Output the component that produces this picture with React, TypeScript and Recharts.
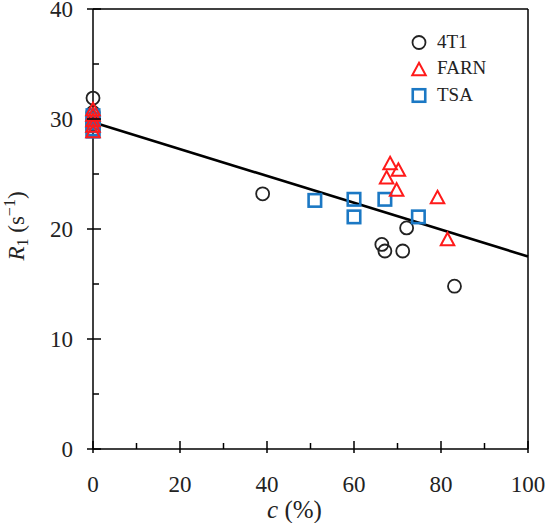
// ============================================
// R1 vs c — relaxation rate scatter with linear fit
// ============================================

import { ScatterChart, Scatter, XAxis, YAxis, ReferenceLine, Label } from 'recharts'

// ============================================
// Data
// ============================================

const xTicks = [0, 10, 20, 30, 40, 50, 60, 70, 80, 90, 100]
const yTicks = [0, 5, 10, 15, 20, 25, 30, 35, 40]
const xDomain = [0, 100]
const yDomain = [0, 40]

// 4T1 (circles)
const c4T1 = [0, 0, 0, 39, 66.4, 67.1, 71.2, 72.1, 83.1]
const r4T1 = [31.9, 30.6, 29.5, 23.2, 18.6, 18.0, 18.0, 20.1, 14.8]

// FARN (triangles)
const cFARN = [0, 0, 0, 0, 0, 68.3, 70.2, 67.5, 69.8, 79.2, 81.5]
const rFARN = [30.9, 30.4, 29.9, 29.4, 28.9, 26.0, 25.4, 24.7, 23.6, 22.9, 19.1]

// TSA (squares)
const cTSA = [0, 0, 0, 0, 0, 0, 51.0, 60.0, 60.0, 67.1, 74.8]
const rTSA = [30.3, 30.0, 29.7, 29.4, 29.1, 28.9, 22.6, 22.7, 21.1, 22.7, 21.1]

// linear fit end points
const fitC = [0, 100]
const fitR = [29.7, 17.5]

const legendNames = ['4T1', 'FARN', 'TSA']

const toPoints = (xs: number[], ys: number[]) => xs.map((x, i) => ({ x, y: ys[i] }))

// ============================================
// Styles
// ============================================

const FONT = '"Liberation Serif", "DejaVu Serif", serif'
const RED = '#ff1a1a'
const BLUE = '#1b78c4'
const DARK = '#222'

// ============================================
// Markers
// ============================================

function CircleMark(cx: number, cy: number) {
  return <circle cx={cx} cy={cy} r={6.5} fill="none" stroke={DARK} strokeWidth={1.8} />
}

function TriangleMark(cx: number, cy: number) {
  const h = 12.5
  const w = 13.5
  return (
    <polygon
      points={`${cx},${cy - h / 2} ${cx + w / 2},${cy + h / 2} ${cx - w / 2},${cy + h / 2}`}
      fill="none"
      stroke={RED}
      strokeWidth={2}
    />
  )
}

function SquareMark(cx: number, cy: number) {
  const s = 12.5
  return (
    <rect x={cx - s / 2} y={cy - s / 2} width={s} height={s} fill="none" stroke={BLUE} strokeWidth={2.6} />
  )
}

// ============================================
// Ticks (inward, with minor ticks)
// ============================================

function XTick({ x, y, payload }: any) {
  const v = payload.value
  const major = v % 20 === 0
  return (
    <g>
      <line x1={x} x2={x} y1={y - (major ? 8 : 6)} y2={y + (major ? 4 : 0)} stroke="#000" strokeWidth={1.5} />
      {major && (
        <text x={x} y={y + 43} textAnchor="middle" fontFamily={FONT} fontSize={23} fill={DARK}>
          {v}
        </text>
      )}
    </g>
  )
}

function YTick({ x, y, payload }: any) {
  const v = payload.value
  const major = v % 10 === 0
  return (
    <g>
      <line x1={x - (major ? 6 : 0)} x2={x + (major ? 8 : 6)} y1={y} y2={y} stroke="#000" strokeWidth={1.5} />
      {major && (
        <text x={x - 20} y={y} dy="0.35em" textAnchor="end" fontFamily={FONT} fontSize={23} fill={DARK}>
          {v}
        </text>
      )}
    </g>
  )
}

// ============================================
// Axis titles
// ============================================

function XTitle({ viewBox }: any) {
  const cx = viewBox.x + viewBox.width / 2 - 16
  return (
    <text x={cx} y={viewBox.y + 69} textAnchor="middle" fontFamily={FONT} fontSize={25} fill={DARK}>
      <tspan fontStyle="italic">c</tspan>
      <tspan> (%)</tspan>
    </text>
  )
}

function YTitle({ viewBox }: any) {
  const cx = 24
  const cy = viewBox.y + viewBox.height / 2 - 3
  return (
    <text
      x={cx}
      y={cy}
      textAnchor="middle"
      transform={`rotate(-90, ${cx}, ${cy})`}
      fontFamily={FONT}
      fontSize={23}
      fill={DARK}
    >
      <tspan fontStyle="italic">R</tspan>
      <tspan fontSize={16} dy={4}>1</tspan>
      <tspan dy={-4}> (s</tspan>
      <tspan fontSize={16} dy={-9}>−1</tspan>
      <tspan dy={9}>)</tspan>
    </text>
  )
}

// ============================================
// Legend
// ============================================

function ChartLegend() {
  const marks = [CircleMark, TriangleMark, SquareMark]
  return (
    <svg width={130} height={100} style={{ position: 'absolute', left: 400, top: 20 }}>
      {legendNames.map((name, i) => {
        const cy = 22.5 + i * 26.5
        return (
          <g key={name}>
            {marks[i](19, cy)}
            <text x={37} y={cy + 5} fontFamily={FONT} fontSize={19} fill={DARK}>
              {name}
            </text>
          </g>
        )
      })}
    </svg>
  )
}

// ============================================
// App
// ============================================

export default function App() {
  return (
    <div style={{ position: 'relative', width: 547, height: 523, background: '#fff' }}>
      <style>{'body{margin:0}'}</style>
      <ScatterChart width={547} height={523} margin={{ top: 9, right: 19, left: 0, bottom: 0 }}>
        <XAxis
          type="number"
          dataKey="x"
          domain={xDomain}
          ticks={xTicks}
          interval={0}
          height={74}
          tickSize={0}
          tickMargin={0}
          tick={<XTick />}
          axisLine={{ stroke: '#000', strokeWidth: 1.5 }}
          tickLine={false}
        >
          <Label content={<XTitle />} />
        </XAxis>
        <YAxis
          type="number"
          dataKey="y"
          domain={yDomain}
          ticks={yTicks}
          interval={0}
          width={93}
          tickSize={0}
          tickMargin={0}
          tick={<YTick />}
          axisLine={{ stroke: '#000', strokeWidth: 1.5 }}
          tickLine={false}
        >
          <Label content={<YTitle />} />
        </YAxis>
        <ReferenceLine y={yDomain[1]} stroke="#000" strokeWidth={1.5} />
        <ReferenceLine x={xDomain[1]} stroke="#000" strokeWidth={1.5} />
        <ReferenceLine
          segment={[
            { x: fitC[0], y: fitR[0] },
            { x: fitC[1], y: fitR[1] },
          ]}
          stroke="#000"
          strokeWidth={2.6}
        />
        <Scatter
          name="4T1"
          data={toPoints(c4T1, r4T1)}
          isAnimationActive={false}
          shape={(p: any) => CircleMark(p.cx, p.cy)}
        />
        <Scatter
          name="TSA"
          data={toPoints(cTSA, rTSA)}
          isAnimationActive={false}
          shape={(p: any) => SquareMark(p.cx, p.cy)}
        />
        <Scatter
          name="FARN"
          data={toPoints(cFARN, rFARN)}
          isAnimationActive={false}
          shape={(p: any) => TriangleMark(p.cx, p.cy)}
        />
      </ScatterChart>
      <ChartLegend />
    </div>
  )
}
